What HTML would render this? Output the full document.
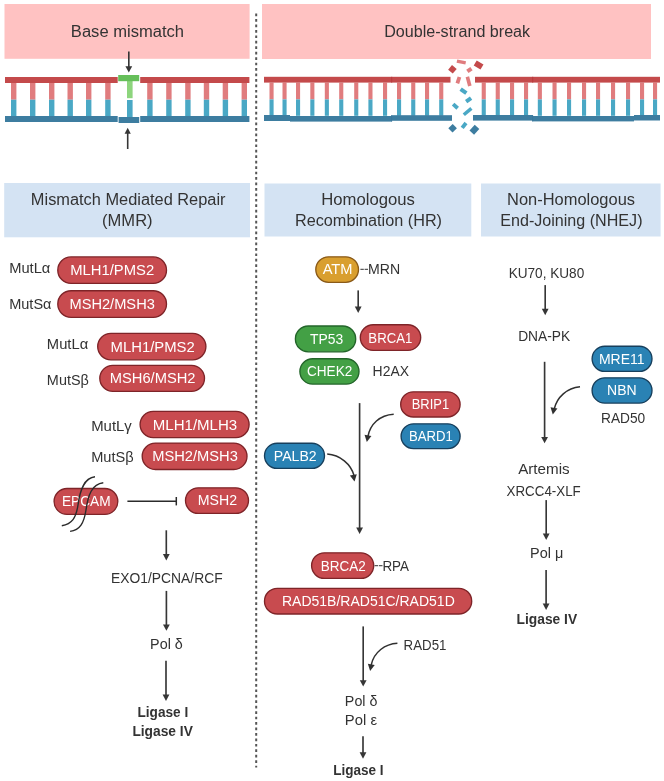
<!DOCTYPE html>
<html><head><meta charset="utf-8"><style>
html,body{margin:0;padding:0;background:#fff;}
body{width:664px;height:781px;overflow:hidden;}
svg{display:block;font-family:"Liberation Sans", sans-serif;will-change:transform;}
</style></head><body>
<svg width="664" height="781" viewBox="0 0 664 781">
<rect width="664" height="781" fill="#FFFFFF"/>
<rect x="4.50" y="4.00" width="245.10" height="54.80" fill="#FFC2C2" />
<rect x="262.00" y="4.00" width="389.00" height="55.00" fill="#FFC2C2" />
<text x="127.45" y="37.10" font-size="16" font-weight="normal" fill="#333333" text-anchor="middle" textLength="113.14" lengthAdjust="spacingAndGlyphs">Base mismatch</text>
<text x="457.15" y="36.70" font-size="16" font-weight="normal" fill="#333333" text-anchor="middle" textLength="145.94" lengthAdjust="spacingAndGlyphs">Double-strand break</text>
<line x1="256.2" y1="13.6" x2="256.2" y2="767.5" stroke="#555555" stroke-width="2" stroke-dasharray="2.7 2.75"/>
<rect x="11.00" y="83.00" width="5.40" height="16.70" fill="#E07C7E" />
<rect x="11.00" y="99.70" width="5.40" height="16.30" fill="#4AA8C5" />
<rect x="30.00" y="83.00" width="5.40" height="16.70" fill="#E07C7E" />
<rect x="30.00" y="99.70" width="5.40" height="16.30" fill="#4AA8C5" />
<rect x="49.00" y="83.00" width="5.40" height="16.70" fill="#E07C7E" />
<rect x="49.00" y="99.70" width="5.40" height="16.30" fill="#4AA8C5" />
<rect x="67.50" y="83.00" width="5.40" height="16.70" fill="#E07C7E" />
<rect x="67.50" y="99.70" width="5.40" height="16.30" fill="#4AA8C5" />
<rect x="86.00" y="83.00" width="5.40" height="16.70" fill="#E07C7E" />
<rect x="86.00" y="99.70" width="5.40" height="16.30" fill="#4AA8C5" />
<rect x="105.20" y="83.00" width="5.40" height="16.70" fill="#E07C7E" />
<rect x="105.20" y="99.70" width="5.40" height="16.30" fill="#4AA8C5" />
<rect x="147.20" y="83.00" width="5.40" height="16.70" fill="#E07C7E" />
<rect x="147.20" y="99.70" width="5.40" height="16.30" fill="#4AA8C5" />
<rect x="166.20" y="83.00" width="5.40" height="16.70" fill="#E07C7E" />
<rect x="166.20" y="99.70" width="5.40" height="16.30" fill="#4AA8C5" />
<rect x="185.20" y="83.00" width="5.40" height="16.70" fill="#E07C7E" />
<rect x="185.20" y="99.70" width="5.40" height="16.30" fill="#4AA8C5" />
<rect x="203.80" y="83.00" width="5.40" height="16.70" fill="#E07C7E" />
<rect x="203.80" y="99.70" width="5.40" height="16.30" fill="#4AA8C5" />
<rect x="222.70" y="83.00" width="5.40" height="16.70" fill="#E07C7E" />
<rect x="222.70" y="99.70" width="5.40" height="16.30" fill="#4AA8C5" />
<rect x="241.60" y="83.00" width="5.40" height="16.70" fill="#E07C7E" />
<rect x="241.60" y="99.70" width="5.40" height="16.30" fill="#4AA8C5" />
<rect x="5.00" y="77.00" width="112.70" height="6.00" fill="#C44A4B" />
<rect x="140.20" y="77.00" width="109.20" height="6.00" fill="#C44A4B" />
<rect x="5.00" y="116.00" width="112.70" height="6.00" fill="#3D7DA0" />
<rect x="140.20" y="116.00" width="109.20" height="6.00" fill="#3D7DA0" />
<rect x="127.00" y="81.00" width="5.60" height="17.20" fill="#8DD57D" />
<rect x="118.20" y="75.00" width="21.00" height="6.20" fill="#66BF5A" />
<rect x="127.00" y="100.00" width="5.60" height="17.00" fill="#4AA8C5" />
<rect x="118.60" y="117.00" width="20.60" height="6.00" fill="#3D7DA0" />
<line x1="128.80" y1="51.50" x2="128.80" y2="67.20" stroke="#363636" stroke-width="1.65"/>
<path d="M125.40,66.20 L132.20,66.20 L128.80,72.60Z" fill="#363636"/>
<line x1="127.70" y1="132.70" x2="127.70" y2="149.00" stroke="#363636" stroke-width="1.6"/>
<path d="M124.60,133.70 L130.80,133.70 L127.70,127.70Z" fill="#363636"/>
<rect x="269.50" y="82.60" width="4.10" height="16.80" fill="#E07C7E" />
<rect x="269.50" y="99.40" width="4.10" height="16.40" fill="#4AA8C5" />
<rect x="282.50" y="82.60" width="4.10" height="16.80" fill="#E07C7E" />
<rect x="282.50" y="99.40" width="4.10" height="16.40" fill="#4AA8C5" />
<rect x="296.00" y="82.60" width="4.10" height="16.80" fill="#E07C7E" />
<rect x="296.00" y="99.40" width="4.10" height="16.40" fill="#4AA8C5" />
<rect x="310.30" y="82.60" width="4.10" height="16.80" fill="#E07C7E" />
<rect x="310.30" y="99.40" width="4.10" height="16.40" fill="#4AA8C5" />
<rect x="324.80" y="82.60" width="4.10" height="16.80" fill="#E07C7E" />
<rect x="324.80" y="99.40" width="4.10" height="16.40" fill="#4AA8C5" />
<rect x="339.20" y="82.60" width="4.10" height="16.80" fill="#E07C7E" />
<rect x="339.20" y="99.40" width="4.10" height="16.40" fill="#4AA8C5" />
<rect x="354.20" y="82.60" width="4.10" height="16.80" fill="#E07C7E" />
<rect x="354.20" y="99.40" width="4.10" height="16.40" fill="#4AA8C5" />
<rect x="368.40" y="82.60" width="4.10" height="16.80" fill="#E07C7E" />
<rect x="368.40" y="99.40" width="4.10" height="16.40" fill="#4AA8C5" />
<rect x="383.00" y="82.60" width="4.10" height="16.80" fill="#E07C7E" />
<rect x="383.00" y="99.40" width="4.10" height="16.40" fill="#4AA8C5" />
<rect x="397.00" y="82.60" width="4.10" height="16.80" fill="#E07C7E" />
<rect x="397.00" y="99.40" width="4.10" height="16.40" fill="#4AA8C5" />
<rect x="411.20" y="82.60" width="4.10" height="16.80" fill="#E07C7E" />
<rect x="411.20" y="99.40" width="4.10" height="16.40" fill="#4AA8C5" />
<rect x="425.00" y="82.60" width="4.10" height="16.80" fill="#E07C7E" />
<rect x="425.00" y="99.40" width="4.10" height="16.40" fill="#4AA8C5" />
<rect x="439.20" y="82.60" width="4.10" height="16.80" fill="#E07C7E" />
<rect x="439.20" y="99.40" width="4.10" height="16.40" fill="#4AA8C5" />
<rect x="481.70" y="82.60" width="4.10" height="16.80" fill="#E07C7E" />
<rect x="481.70" y="99.40" width="4.10" height="16.40" fill="#4AA8C5" />
<rect x="495.70" y="82.60" width="4.10" height="16.80" fill="#E07C7E" />
<rect x="495.70" y="99.40" width="4.10" height="16.40" fill="#4AA8C5" />
<rect x="510.00" y="82.60" width="4.10" height="16.80" fill="#E07C7E" />
<rect x="510.00" y="99.40" width="4.10" height="16.40" fill="#4AA8C5" />
<rect x="524.00" y="82.60" width="4.10" height="16.80" fill="#E07C7E" />
<rect x="524.00" y="99.40" width="4.10" height="16.40" fill="#4AA8C5" />
<rect x="537.80" y="82.60" width="4.10" height="16.80" fill="#E07C7E" />
<rect x="537.80" y="99.40" width="4.10" height="16.40" fill="#4AA8C5" />
<rect x="552.50" y="82.60" width="4.10" height="16.80" fill="#E07C7E" />
<rect x="552.50" y="99.40" width="4.10" height="16.40" fill="#4AA8C5" />
<rect x="567.00" y="82.60" width="4.10" height="16.80" fill="#E07C7E" />
<rect x="567.00" y="99.40" width="4.10" height="16.40" fill="#4AA8C5" />
<rect x="582.00" y="82.60" width="4.10" height="16.80" fill="#E07C7E" />
<rect x="582.00" y="99.40" width="4.10" height="16.40" fill="#4AA8C5" />
<rect x="596.00" y="82.60" width="4.10" height="16.80" fill="#E07C7E" />
<rect x="596.00" y="99.40" width="4.10" height="16.40" fill="#4AA8C5" />
<rect x="611.00" y="82.60" width="4.10" height="16.80" fill="#E07C7E" />
<rect x="611.00" y="99.40" width="4.10" height="16.40" fill="#4AA8C5" />
<rect x="626.00" y="82.60" width="4.10" height="16.80" fill="#E07C7E" />
<rect x="626.00" y="99.40" width="4.10" height="16.40" fill="#4AA8C5" />
<rect x="640.00" y="82.60" width="4.10" height="16.80" fill="#E07C7E" />
<rect x="640.00" y="99.40" width="4.10" height="16.40" fill="#4AA8C5" />
<rect x="653.00" y="82.60" width="4.10" height="16.80" fill="#E07C7E" />
<rect x="653.00" y="99.40" width="4.10" height="16.40" fill="#4AA8C5" />
<rect x="264.00" y="76.80" width="186.50" height="5.80" fill="#C44A4B" />
<rect x="475.00" y="76.80" width="185.00" height="5.80" fill="#C44A4B" />
<rect x="264.00" y="115.00" width="26.00" height="6.00" fill="#3D7DA0" />
<rect x="290.00" y="116.00" width="101.60" height="5.60" fill="#3D7DA0" />
<rect x="391.60" y="115.20" width="60.40" height="5.60" fill="#3D7DA0" />
<rect x="473.00" y="115.00" width="59.50" height="5.60" fill="#3D7DA0" />
<rect x="532.50" y="116.00" width="101.50" height="5.40" fill="#3D7DA0" />
<rect x="634.00" y="115.00" width="26.00" height="5.50" fill="#3D7DA0" />
<rect x="391.20" y="76.80" width="1.00" height="5.80" fill="#B93A3C" />
<rect x="532.20" y="76.80" width="1.00" height="5.80" fill="#B93A3C" />
<rect x="391.10" y="115.20" width="1.00" height="6.40" fill="#36739A" />
<rect x="532.10" y="115.00" width="1.00" height="6.40" fill="#36739A" />
<rect x="-4.50" y="-1.60" width="9.00" height="3.20" fill="#E07C7E" transform="translate(461.30,62.00) rotate(12)"/>
<rect x="-3.05" y="-3.05" width="6.10" height="6.10" fill="#C44A4B" transform="translate(452.40,69.30) rotate(40)"/>
<rect x="-3.95" y="-2.95" width="7.90" height="5.90" fill="#C44A4B" transform="translate(478.60,65.00) rotate(31)"/>
<rect x="-2.50" y="-2.00" width="5.00" height="4.00" fill="#E07C7E" transform="translate(469.40,70.00) rotate(-35)"/>
<rect x="-1.90" y="-3.40" width="3.80" height="6.80" fill="#E07C7E" transform="translate(458.40,80.20) rotate(18)"/>
<rect x="-1.80" y="-4.75" width="3.60" height="9.50" fill="#E07C7E" transform="translate(468.60,81.40) rotate(-15)"/>
<rect x="-3.50" y="-2.00" width="7.00" height="4.00" fill="#4AA8C5" transform="translate(463.50,91.20) rotate(35)"/>
<rect x="-3.00" y="-2.00" width="6.00" height="4.00" fill="#4AA8C5" transform="translate(468.60,99.80) rotate(-35)"/>
<rect x="-3.05" y="-1.90" width="6.10" height="3.80" fill="#4AA8C5" transform="translate(455.40,106.20) rotate(42)"/>
<rect x="-4.95" y="-1.75" width="9.90" height="3.50" fill="#4AA8C5" transform="translate(467.60,111.60) rotate(-40)"/>
<rect x="-3.00" y="-3.10" width="6.00" height="6.20" fill="#3D7DA0" transform="translate(452.60,128.20) rotate(45)"/>
<rect x="-3.10" y="-1.90" width="6.20" height="3.80" fill="#4AA8C5" transform="translate(464.10,125.40) rotate(-52)"/>
<rect x="-3.85" y="-3.10" width="7.70" height="6.20" fill="#3D7DA0" transform="translate(474.40,129.70) rotate(-47)"/>
<rect x="4.20" y="183.00" width="245.80" height="54.30" fill="#D4E3F3" />
<rect x="264.50" y="183.50" width="206.80" height="53.00" fill="#D4E3F3" />
<rect x="481.00" y="183.50" width="179.60" height="53.00" fill="#D4E3F3" />
<text x="128.20" y="204.90" font-size="16" font-weight="normal" fill="#333333" text-anchor="middle" textLength="194.64" lengthAdjust="spacingAndGlyphs">Mismatch Mediated Repair</text>
<text x="127.35" y="226.40" font-size="16" font-weight="normal" fill="#333333" text-anchor="middle" textLength="50.54" lengthAdjust="spacingAndGlyphs">(MMR)</text>
<text x="368.10" y="205.30" font-size="16" font-weight="normal" fill="#333333" text-anchor="middle" textLength="93.64" lengthAdjust="spacingAndGlyphs">Homologous</text>
<text x="368.50" y="226.20" font-size="16" font-weight="normal" fill="#333333" text-anchor="middle" textLength="147.04" lengthAdjust="spacingAndGlyphs">Recombination (HR)</text>
<text x="571.05" y="204.60" font-size="16" font-weight="normal" fill="#333333" text-anchor="middle" textLength="127.94" lengthAdjust="spacingAndGlyphs">Non-Homologous</text>
<text x="571.40" y="226.00" font-size="16" font-weight="normal" fill="#333333" text-anchor="middle" textLength="142.24" lengthAdjust="spacingAndGlyphs">End-Joining (NHEJ)</text>
<text x="29.75" y="273.10" font-size="13.8" font-weight="normal" fill="#333333" text-anchor="middle" textLength="41.14" lengthAdjust="spacingAndGlyphs">MutLα</text>
<text x="30.35" y="309.20" font-size="13.8" font-weight="normal" fill="#333333" text-anchor="middle" textLength="42.34" lengthAdjust="spacingAndGlyphs">MutSα</text>
<rect x="57.80" y="256.90" width="108.70" height="26.50" rx="13.25" fill="#C84B4F" stroke="#7E2428" stroke-width="1.35"/>
<text x="112.15" y="275.20" font-size="14.6" font-weight="normal" fill="#FFFFFF" text-anchor="middle" textLength="84.01" lengthAdjust="spacingAndGlyphs">MLH1/PMS2</text>
<rect x="57.80" y="290.70" width="108.70" height="26.60" rx="13.30" fill="#C84B4F" stroke="#7E2428" stroke-width="1.35"/>
<text x="112.15" y="309.20" font-size="14.6" font-weight="normal" fill="#FFFFFF" text-anchor="middle" textLength="85.41" lengthAdjust="spacingAndGlyphs">MSH2/MSH3</text>
<text x="67.55" y="349.10" font-size="13.8" font-weight="normal" fill="#333333" text-anchor="middle" textLength="41.34" lengthAdjust="spacingAndGlyphs">MutLα</text>
<text x="67.85" y="385.20" font-size="13.8" font-weight="normal" fill="#333333" text-anchor="middle" textLength="41.94" lengthAdjust="spacingAndGlyphs">MutSβ</text>
<rect x="97.70" y="333.30" width="108.20" height="26.50" rx="13.25" fill="#C84B4F" stroke="#7E2428" stroke-width="1.35"/>
<text x="152.65" y="351.90" font-size="14.6" font-weight="normal" fill="#FFFFFF" text-anchor="middle" textLength="84.21" lengthAdjust="spacingAndGlyphs">MLH1/PMS2</text>
<rect x="99.80" y="365.30" width="104.70" height="26.00" rx="13.00" fill="#C84B4F" stroke="#7E2428" stroke-width="1.35"/>
<text x="152.65" y="382.60" font-size="14.6" font-weight="normal" fill="#FFFFFF" text-anchor="middle" textLength="85.81" lengthAdjust="spacingAndGlyphs">MSH6/MSH2</text>
<text x="111.50" y="430.90" font-size="13.8" font-weight="normal" fill="#333333" text-anchor="middle" textLength="40.64" lengthAdjust="spacingAndGlyphs">MutLγ</text>
<text x="112.40" y="462.20" font-size="13.8" font-weight="normal" fill="#333333" text-anchor="middle" textLength="42.44" lengthAdjust="spacingAndGlyphs">MutSβ</text>
<rect x="140.10" y="411.30" width="109.00" height="26.30" rx="13.15" fill="#C84B4F" stroke="#7E2428" stroke-width="1.35"/>
<text x="195.00" y="429.70" font-size="14.6" font-weight="normal" fill="#FFFFFF" text-anchor="middle" textLength="84.51" lengthAdjust="spacingAndGlyphs">MLH1/MLH3</text>
<rect x="142.20" y="443.10" width="104.80" height="26.40" rx="13.20" fill="#C84B4F" stroke="#7E2428" stroke-width="1.35"/>
<text x="195.00" y="461.00" font-size="14.6" font-weight="normal" fill="#FFFFFF" text-anchor="middle" textLength="85.71" lengthAdjust="spacingAndGlyphs">MSH2/MSH3</text>
<rect x="54.10" y="488.50" width="63.70" height="25.90" rx="12.95" fill="#C84B4F" stroke="#7E2428" stroke-width="1.35"/>
<text x="86.30" y="506.40" font-size="14.6" font-weight="normal" fill="#FFFFFF" text-anchor="middle" textLength="48.71" lengthAdjust="spacingAndGlyphs">EPCAM</text>
<rect x="185.50" y="487.80" width="63.00" height="25.60" rx="12.80" fill="#C84B4F" stroke="#7E2428" stroke-width="1.35"/>
<text x="217.40" y="504.80" font-size="14.6" font-weight="normal" fill="#FFFFFF" text-anchor="middle" textLength="39.31" lengthAdjust="spacingAndGlyphs">MSH2</text>
<path d="M61.8,525.7 C72,524 76,518 78,505 C80,490 84,478 95,476.8" fill="none" stroke="#2B2B2B" stroke-width="1.4"/>
<path d="M70.1,531.4 C80,530 84,523 86,510 C88,495 92,484 103.3,482.8" fill="none" stroke="#2B2B2B" stroke-width="1.4"/>
<line x1="127.4" y1="501.2" x2="176.5" y2="501.2" stroke="#2B2B2B" stroke-width="1.4"/>
<line x1="176.3" y1="497" x2="176.3" y2="505.4" stroke="#2B2B2B" stroke-width="1.5"/>
<line x1="166.30" y1="530.30" x2="166.30" y2="555.00" stroke="#363636" stroke-width="1.65"/>
<path d="M162.90,554.00 L169.70,554.00 L166.30,560.40Z" fill="#363636"/>
<text x="166.85" y="583.40" font-size="13.8" font-weight="normal" fill="#333333" text-anchor="middle" textLength="111.54" lengthAdjust="spacingAndGlyphs">EXO1/PCNA/RCF</text>
<line x1="166.40" y1="590.90" x2="166.40" y2="625.40" stroke="#363636" stroke-width="1.65"/>
<path d="M163.00,624.40 L169.80,624.40 L166.40,630.80Z" fill="#363636"/>
<text x="166.45" y="648.70" font-size="13.8" font-weight="normal" fill="#333333" text-anchor="middle" textLength="32.74" lengthAdjust="spacingAndGlyphs">Pol δ</text>
<line x1="166.00" y1="660.70" x2="166.00" y2="695.60" stroke="#363636" stroke-width="1.65"/>
<path d="M162.60,694.60 L169.40,694.60 L166.00,701.00Z" fill="#363636"/>
<text x="162.85" y="716.80" font-size="13.8" font-weight="bold" fill="#333333" text-anchor="middle" textLength="50.74" lengthAdjust="spacingAndGlyphs">Ligase I</text>
<text x="162.60" y="735.70" font-size="13.8" font-weight="bold" fill="#333333" text-anchor="middle" textLength="60.44" lengthAdjust="spacingAndGlyphs">Ligase IV</text>
<rect x="315.80" y="256.80" width="42.70" height="25.50" rx="12.75" fill="#D99F2F" stroke="#8A5A18" stroke-width="1.35"/>
<text x="337.60" y="274.40" font-size="14.6" font-weight="normal" fill="#FFFFFF" text-anchor="middle" textLength="29.91" lengthAdjust="spacingAndGlyphs">ATM</text>
<line x1="360.4" y1="269.3" x2="368" y2="269.3" stroke="#5A5A5A" stroke-width="1.3" stroke-dasharray="3.4 0.8"/>
<text x="384.15" y="274.40" font-size="13.8" font-weight="normal" fill="#333333" text-anchor="middle" textLength="32.14" lengthAdjust="spacingAndGlyphs">MRN</text>
<line x1="358.20" y1="290.40" x2="358.20" y2="307.60" stroke="#363636" stroke-width="1.65"/>
<path d="M354.80,306.60 L361.60,306.60 L358.20,313.00Z" fill="#363636"/>
<rect x="295.40" y="326.00" width="60.30" height="25.80" rx="12.90" fill="#43A045" stroke="#23652A" stroke-width="1.35"/>
<text x="326.55" y="343.50" font-size="14.6" font-weight="normal" fill="#FFFFFF" text-anchor="middle" textLength="33.21" lengthAdjust="spacingAndGlyphs">TP53</text>
<rect x="360.30" y="324.70" width="60.40" height="25.70" rx="12.85" fill="#C84B4F" stroke="#7E2428" stroke-width="1.35"/>
<text x="390.35" y="342.80" font-size="14.6" font-weight="normal" fill="#FFFFFF" text-anchor="middle" textLength="44.01" lengthAdjust="spacingAndGlyphs">BRCA1</text>
<rect x="299.90" y="358.70" width="59.10" height="25.40" rx="12.70" fill="#43A045" stroke="#23652A" stroke-width="1.35"/>
<text x="329.65" y="375.80" font-size="14.6" font-weight="normal" fill="#FFFFFF" text-anchor="middle" textLength="45.41" lengthAdjust="spacingAndGlyphs">CHEK2</text>
<text x="390.80" y="375.80" font-size="13.8" font-weight="normal" fill="#333333" text-anchor="middle" textLength="36.44" lengthAdjust="spacingAndGlyphs">H2AX</text>
<line x1="359.60" y1="403.10" x2="359.60" y2="528.50" stroke="#363636" stroke-width="1.65"/>
<path d="M356.20,527.50 L363.00,527.50 L359.60,533.90Z" fill="#363636"/>
<rect x="400.70" y="391.80" width="59.40" height="25.20" rx="12.60" fill="#C84B4F" stroke="#7E2428" stroke-width="1.35"/>
<text x="430.45" y="408.90" font-size="14.6" font-weight="normal" fill="#FFFFFF" text-anchor="middle" textLength="37.41" lengthAdjust="spacingAndGlyphs">BRIP1</text>
<rect x="401.10" y="423.80" width="59.00" height="24.90" rx="12.45" fill="#2A82B4" stroke="#173F5C" stroke-width="1.35"/>
<text x="430.85" y="440.70" font-size="14.6" font-weight="normal" fill="#FFFFFF" text-anchor="middle" textLength="43.81" lengthAdjust="spacingAndGlyphs">BARD1</text>
<rect x="264.50" y="443.20" width="60.00" height="25.20" rx="12.60" fill="#2A82B4" stroke="#173F5C" stroke-width="1.35"/>
<text x="295.25" y="460.80" font-size="14.6" font-weight="normal" fill="#FFFFFF" text-anchor="middle" textLength="42.81" lengthAdjust="spacingAndGlyphs">PALB2</text>
<path d="M393.7,414.3 C380,415 370,424 367.8,437" fill="none" stroke="#303030" stroke-width="1.5"/>
<path d="M-3.5,-6.8 L3.5,-6.8 L0,0Z" fill="#303030" transform="translate(366.80,442.00) rotate(10)"/>
<path d="M327.2,454.1 C340,455 351,464 354.2,476" fill="none" stroke="#303030" stroke-width="1.5"/>
<path d="M-3.5,-6.8 L3.5,-6.8 L0,0Z" fill="#303030" transform="translate(354.50,481.50) rotate(-10)"/>
<rect x="311.60" y="552.80" width="62.10" height="25.60" rx="12.80" fill="#C84B4F" stroke="#7E2428" stroke-width="1.35"/>
<text x="343.35" y="570.70" font-size="14.6" font-weight="normal" fill="#FFFFFF" text-anchor="middle" textLength="45.01" lengthAdjust="spacingAndGlyphs">BRCA2</text>
<line x1="374.5" y1="565.7" x2="382.5" y2="565.7" stroke="#5A5A5A" stroke-width="1.3" stroke-dasharray="3.6 0.8"/>
<text x="395.70" y="570.70" font-size="13.8" font-weight="normal" fill="#333333" text-anchor="middle" textLength="26.64" lengthAdjust="spacingAndGlyphs">RPA</text>
<rect x="264.50" y="588.30" width="207.20" height="25.70" rx="12.85" fill="#C84B4F" stroke="#7E2428" stroke-width="1.35"/>
<text x="368.35" y="606.40" font-size="14.6" font-weight="normal" fill="#FFFFFF" text-anchor="middle" textLength="172.81" lengthAdjust="spacingAndGlyphs">RAD51B/RAD51C/RAD51D</text>
<line x1="363.20" y1="626.40" x2="363.20" y2="681.20" stroke="#363636" stroke-width="1.65"/>
<path d="M359.80,680.20 L366.60,680.20 L363.20,686.60Z" fill="#363636"/>
<path d="M397.4,643.3 C385,644 374,652 371.2,665" fill="none" stroke="#303030" stroke-width="1.5"/>
<path d="M-3.5,-6.8 L3.5,-6.8 L0,0Z" fill="#303030" transform="translate(370.10,671.00) rotate(10)"/>
<text x="425.00" y="649.80" font-size="13.8" font-weight="normal" fill="#333333" text-anchor="middle" textLength="42.84" lengthAdjust="spacingAndGlyphs">RAD51</text>
<text x="361.15" y="705.90" font-size="13.8" font-weight="normal" fill="#333333" text-anchor="middle" textLength="32.54" lengthAdjust="spacingAndGlyphs">Pol δ</text>
<text x="360.95" y="724.60" font-size="13.8" font-weight="normal" fill="#333333" text-anchor="middle" textLength="32.14" lengthAdjust="spacingAndGlyphs">Pol ε</text>
<line x1="363.00" y1="736.30" x2="363.00" y2="753.30" stroke="#363636" stroke-width="1.65"/>
<path d="M359.60,752.30 L366.40,752.30 L363.00,758.70Z" fill="#363636"/>
<text x="358.45" y="774.50" font-size="13.8" font-weight="bold" fill="#333333" text-anchor="middle" textLength="50.34" lengthAdjust="spacingAndGlyphs">Ligase I</text>
<text x="546.45" y="277.90" font-size="13.8" font-weight="normal" fill="#333333" text-anchor="middle" textLength="75.54" lengthAdjust="spacingAndGlyphs">KU70, KU80</text>
<line x1="545.20" y1="285.10" x2="545.20" y2="309.80" stroke="#363636" stroke-width="1.65"/>
<path d="M541.80,308.80 L548.60,308.80 L545.20,315.20Z" fill="#363636"/>
<text x="544.20" y="340.50" font-size="13.8" font-weight="normal" fill="#333333" text-anchor="middle" textLength="52.04" lengthAdjust="spacingAndGlyphs">DNA-PK</text>
<line x1="544.60" y1="361.80" x2="544.60" y2="437.90" stroke="#363636" stroke-width="1.65"/>
<path d="M541.20,436.90 L548.00,436.90 L544.60,443.30Z" fill="#363636"/>
<rect x="592.10" y="346.20" width="59.90" height="25.20" rx="12.60" fill="#2A82B4" stroke="#173F5C" stroke-width="1.35"/>
<text x="621.80" y="363.80" font-size="14.6" font-weight="normal" fill="#FFFFFF" text-anchor="middle" textLength="45.71" lengthAdjust="spacingAndGlyphs">MRE11</text>
<rect x="592.10" y="377.80" width="59.90" height="25.30" rx="12.65" fill="#2A82B4" stroke="#173F5C" stroke-width="1.35"/>
<text x="621.85" y="394.90" font-size="14.6" font-weight="normal" fill="#FFFFFF" text-anchor="middle" textLength="29.61" lengthAdjust="spacingAndGlyphs">NBN</text>
<text x="623.10" y="422.70" font-size="13.8" font-weight="normal" fill="#333333" text-anchor="middle" textLength="44.24" lengthAdjust="spacingAndGlyphs">RAD50</text>
<path d="M580,386.8 C567,388 557,397 554.2,409" fill="none" stroke="#303030" stroke-width="1.5"/>
<path d="M-3.5,-6.8 L3.5,-6.8 L0,0Z" fill="#303030" transform="translate(552.80,414.60) rotate(10)"/>
<text x="543.90" y="473.90" font-size="13.8" font-weight="normal" fill="#333333" text-anchor="middle" textLength="51.44" lengthAdjust="spacingAndGlyphs">Artemis</text>
<text x="543.65" y="496.00" font-size="13.8" font-weight="normal" fill="#333333" text-anchor="middle" textLength="74.14" lengthAdjust="spacingAndGlyphs">XRCC4-XLF</text>
<line x1="546.20" y1="500.10" x2="546.20" y2="534.60" stroke="#363636" stroke-width="1.65"/>
<path d="M542.80,533.60 L549.60,533.60 L546.20,540.00Z" fill="#363636"/>
<text x="546.70" y="557.60" font-size="13.8" font-weight="normal" fill="#333333" text-anchor="middle" textLength="33.24" lengthAdjust="spacingAndGlyphs">Pol μ</text>
<line x1="546.10" y1="570.00" x2="546.10" y2="604.50" stroke="#363636" stroke-width="1.65"/>
<path d="M542.70,603.50 L549.50,603.50 L546.10,609.90Z" fill="#363636"/>
<text x="546.85" y="624.10" font-size="13.8" font-weight="bold" fill="#333333" text-anchor="middle" textLength="60.54" lengthAdjust="spacingAndGlyphs">Ligase IV</text>
</svg>
</body></html>
